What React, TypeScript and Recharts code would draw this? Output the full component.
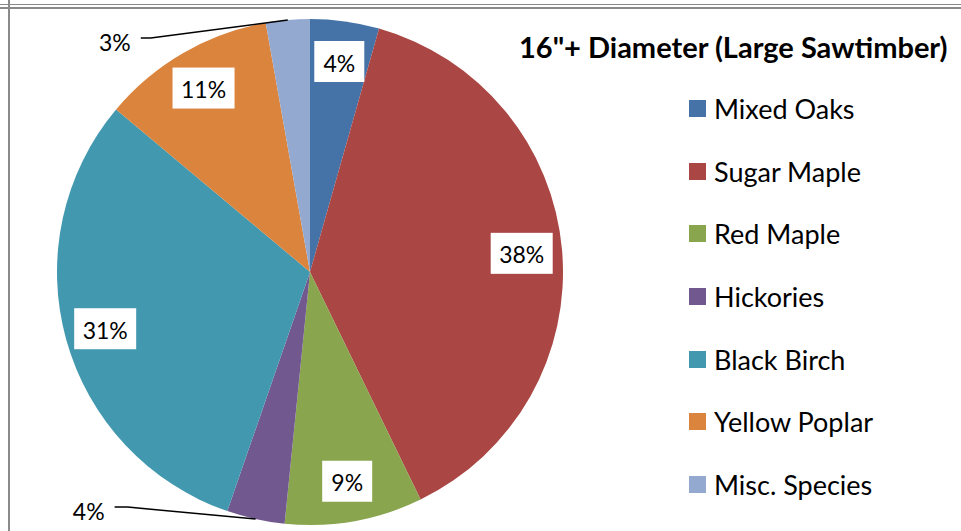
import { PieChart, Pie, Cell, Legend } from 'recharts';

const species = ['Mixed Oaks', 'Sugar Maple', 'Red Maple', 'Hickories', 'Black Birch', 'Yellow Poplar', 'Misc. Species'];
const shares = [4.4, 38.4, 8.8, 3.7, 30.8, 11.1, 2.8];
const colors = ['#4572A7', '#AA4643', '#89A54E', '#71588F', '#4198AF', '#DB843D', '#93A9CF'];

const pieData = species.map((name, i) => ({ name, value: shares[i] }));

const FONT = 'Lato, "Open Sans", sans-serif';
const RADIAN = Math.PI / 180;

// slices whose label sits outside with a leader line: knee offset from the rim point, then a short tail
const leaders: Record<number, { kx: number; ky: number; tail: number }> = {
  3: { kx: -128, ky: -12, tail: 13 },
  6: { kx: -137, ky: 18, tail: 10 },
};

const renderLabel = (props: any) => {
  const { cx, cy, midAngle, outerRadius, percent, index } = props;
  const text = `${Math.round(percent * 100)}%`;
  const cos = Math.cos(-midAngle * RADIAN);
  const sin = Math.sin(-midAngle * RADIAN);

  const leader = leaders[index];
  if (leader) {
    const ex = cx + outerRadius * cos;
    const ey = cy + outerRadius * sin;
    const kx = ex + leader.kx;
    const ky = ey + leader.ky;
    const tx = kx - leader.tail;
    return (
      <g>
        <polyline points={`${ex},${ey} ${kx},${ky} ${tx},${ky}`} fill="none" stroke="#000" strokeWidth={1.5} />
        <text x={tx - 10} y={ky + 4} textAnchor="end" dominantBaseline="central" fontFamily={FONT} fontSize={23} fill="#000">
          {text}
        </text>
      </g>
    );
  }

  const r = outerRadius * 0.84;
  const x = cx + r * cos;
  const y = cy + r * sin;
  const w = text.length > 2 ? 62 : 50;
  const h = 41;
  return (
    <g>
      <rect x={x - w / 2} y={y - h / 2} width={w} height={h} fill="#fff" />
      <text x={x} y={y + 1} textAnchor="middle" dominantBaseline="central" fontFamily={FONT} fontSize={23} fill="#000">
        {text}
      </text>
    </g>
  );
};

const LegendList = () => (
  <div style={{ fontFamily: FONT }}>
    {species.map((name, i) => (
      <div key={name} style={{ display: 'flex', alignItems: 'center', height: 62.7 }}>
        <span style={{ width: 17, height: 17, background: colors[i], marginRight: 8, flexShrink: 0 }} />
        <span style={{ fontSize: 27, color: '#000', whiteSpace: 'nowrap' }}>{name}</span>
      </div>
    ))}
  </div>
);

export default function App() {
  return (
    <div style={{ position: 'fixed', left: 0, top: 0, width: 961, height: 531, background: '#fff', overflow: 'hidden' }}>
      <div style={{ position: 'absolute', left: 0, right: 0, top: 4, height: 1, background: '#8a8a8a' }} />
      <div style={{ position: 'absolute', left: 0, right: 0, top: 7, height: 2, background: '#8a8a8a' }} />
      <div style={{ position: 'absolute', left: 8, width: 2, top: 0, bottom: 0, background: '#8a8a8a' }} />
      <div
        style={{
          position: 'absolute',
          left: 519,
          top: 29,
          width: 440,
          fontFamily: FONT,
          fontWeight: 700,
          fontSize: 29,
          color: '#000',
          whiteSpace: 'nowrap',
        }}
      >
        16"+ Diameter (Large Sawtimber)
      </div>
      <div style={{ position: 'absolute', left: 0, top: 0 }}>
        <PieChart width={961} height={531} margin={{ top: 0, right: 0, bottom: 0, left: 0 }}>
          <Pie
            data={pieData}
            dataKey="value"
            nameKey="name"
            cx={310}
            cy={272}
            outerRadius={253}
            startAngle={90}
            endAngle={-270}
            stroke="none"
            label={renderLabel}
            labelLine={false}
            isAnimationActive={false}
          >
            {pieData.map((d, i) => (
              <Cell key={d.name} fill={colors[i]} />
            ))}
          </Pie>
          <Legend
            layout="vertical"
            content={() => <LegendList />}
            wrapperStyle={{ position: 'absolute', left: 689, top: 77, width: 270 }}
          />
        </PieChart>
      </div>
    </div>
  );
}
